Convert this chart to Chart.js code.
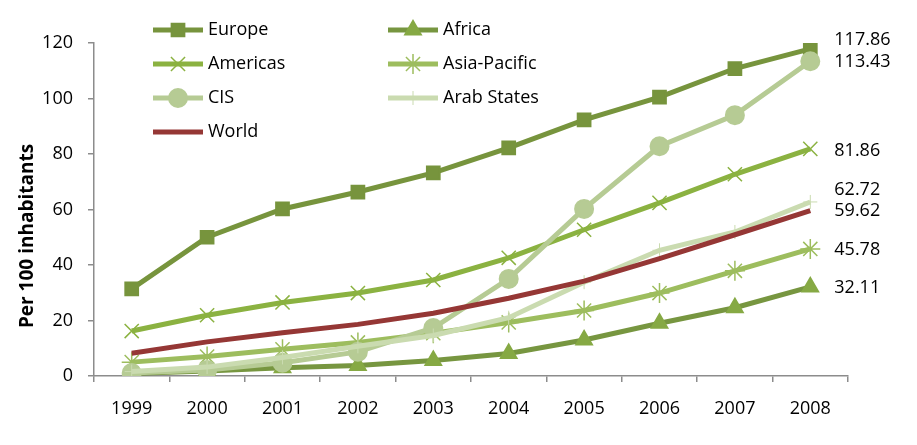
<!DOCTYPE html>
<html>
<head>
<meta charset="utf-8">
<script src="https://cdn.jsdelivr.net/npm/chart.js@4/dist/chart.umd.min.js"></script>
<style>
  html, body { margin:0; padding:0; background:#fff; }
  #wrap { width:917px; height:445px; position:relative; }
</style>
</head>
<body>
<div id="wrap"><canvas id="chart" width="917" height="445"></canvas></div>
<script>
// Mobile subscriptions per 100 inhabitants by region, 1999-2008
const years = ['1999','2000','2001','2002','2003','2004','2005','2006','2007','2008'];

const europe      = [31.4, 50.0, 60.2, 66.3, 73.2, 82.2, 92.3, 100.5, 110.8, 117.86];
const africa      = [0.9, 1.8, 3.0, 3.8, 5.6, 8.1, 13.0, 19.0, 24.6, 32.11];
const americas    = [16.2, 21.9, 26.5, 29.9, 34.6, 42.6, 52.7, 62.4, 72.7, 81.86];
const asiaPacific = [5.0, 7.0, 9.6, 12.1, 15.4, 19.3, 23.6, 29.9, 37.9, 45.78];
const cis         = [1.1, 2.2, 4.8, 8.7, 17.3, 35.0, 60.2, 82.8, 94.0, 113.43];
const arabStates  = [1.6, 3.2, 6.7, 10.7, 14.6, 21.0, 33.8, 45.3, 51.9, 62.72];
const world       = [8.2, 12.3, 15.6, 18.6, 22.6, 28.0, 34.2, 42.3, 50.9, 59.62];

const endLabels = ['117.86', '32.11', '81.86', '45.78', '113.43', '62.72', '59.62'];
// small vertical nudges so the end labels don't collide
const labelNudge = [-9, 1, 2, 1, 1, -12, 0];

const FONT = "'Open Sans', sans-serif";

function series(label, data, color, marker, extra) {
  return Object.assign({
    label, data,
    borderColor: color,
    backgroundColor: color,
    borderWidth: 5,
    pointStyle: marker,
    pointRadius: 8,
    pointHoverRadius: 8,
    pointBorderWidth: 2,
    pointBackgroundColor: color,
    pointBorderColor: color,
    tension: 0
  }, extra || {});
}

const datasets = [
  series('Europe', europe, '#77943D', 'rect', {pointRadius: 9, order: 7}),
  series('Africa', africa, '#779640', 'triangle', {pointRadius: 9, pointBackgroundColor:'#86A944', pointBorderColor:'#86A944', order: 6}),
  series('Americas', americas, '#8BB241', 'crossRot', {pointRadius: 10, pointBorderWidth: 1.5, order: 5}),
  series('Asia-Pacific', asiaPacific, '#9DBD5E', 'star', {pointRadius: 10, pointBorderWidth: 1.5, order: 4}),
  series('CIS', cis, '#B6CB94', 'circle', {pointRadius: 9, order: 3}),
  series('Arab States', arabStates, '#CADBB0', 'cross', {pointRadius: 7, pointBorderWidth: 1, order: 2}),
  series('World', world, '#953735', false, {pointRadius: 0, order: 1})
];

// custom legend, end labels and y title
const extras = {
  id: 'extras',
  afterDraw(chart) {
    const ctx = chart.ctx;
    const xs = chart.scales.x, ys = chart.scales.y;
    ctx.save();

    // end-of-line value labels
    ctx.font = '18px ' + FONT;
    ctx.fillStyle = '#000';
    ctx.textAlign = 'left';
    ctx.textBaseline = 'middle';
    chart.data.datasets.forEach((ds, i) => {
      const last = ds.data.length - 1;
      const x = xs.getPixelForValue(last) + 24;
      const y = ys.getPixelForValue(ds.data[last]) + labelNudge[i];
      ctx.fillText(endLabels[i], x, y);
    });

    // legend, two columns
    const cols = [153, 388];
    const rowY = [30, 64, 98, 132];
    chart.data.datasets.forEach((ds, i) => {
      const cx = cols[i < 6 ? i % 2 : 0];
      const cy = rowY[i < 6 ? Math.floor(i / 2) : 3];
      ctx.strokeStyle = ds.borderColor;
      ctx.lineWidth = ds.borderWidth;
      ctx.beginPath();
      ctx.moveTo(cx, cy);
      ctx.lineTo(cx + 50, cy);
      ctx.stroke();
      if (ds.pointStyle) {
        ctx.fillStyle = ds.pointBackgroundColor;
        ctx.strokeStyle = ds.pointBorderColor;
        ctx.lineWidth = ds.pointBorderWidth;
        Chart.helpers.drawPoint(ctx, {
          pointStyle: ds.pointStyle, radius: ds.pointRadius,
          borderWidth: ds.pointBorderWidth, rotation: 0
        }, cx + 25, cy);
      }
      ctx.fillStyle = '#000';
      ctx.font = '18px ' + FONT;
      ctx.textAlign = 'left';
      ctx.fillText(ds.label, cx + 55, cy);
    });

    // y axis title
    ctx.translate(28, 236);
    ctx.rotate(-Math.PI / 2);
    ctx.font = 'bold 19px ' + FONT;
    ctx.textAlign = 'center';
    ctx.fillStyle = '#000';
    ctx.fillText('Per 100 inhabitants', 0, 0);
    ctx.restore();
  }
};

new Chart(document.getElementById('chart'), {
  type: 'line',
  data: { labels: years, datasets },
  options: {
    responsive: false,
    animation: false,
    layout: { padding: { left: 0, top: 43, right: 69, bottom: 0 } },
    plugins: { legend: { display: false }, tooltip: { enabled: false } },
    scales: {
      x: {
        offset: true,
        grid: { offset: true, drawOnChartArea: false, drawTicks: true, tickLength: 6, color: '#8c8c8c', lineWidth: 1.5 },
        border: { color: '#8c8c8c', width: 1.5 },
        ticks: { color: '#000', font: { family: FONT, size: 18 }, padding: 16, maxRotation: 0 },
        afterFit(s) { s.height = 69; }
      },
      y: {
        min: 0, max: 120,
        grid: { drawOnChartArea: false, drawTicks: true, tickLength: 6, color: '#8c8c8c', lineWidth: 1.5 },
        border: { color: '#8c8c8c', width: 1.5 },
        ticks: { stepSize: 20, color: '#000', font: { family: FONT, size: 18 }, padding: 15 },
        afterFit(s) { s.width = 94; }
      }
    }
  },
  plugins: [extras]
});
</script>
</body>
</html>
